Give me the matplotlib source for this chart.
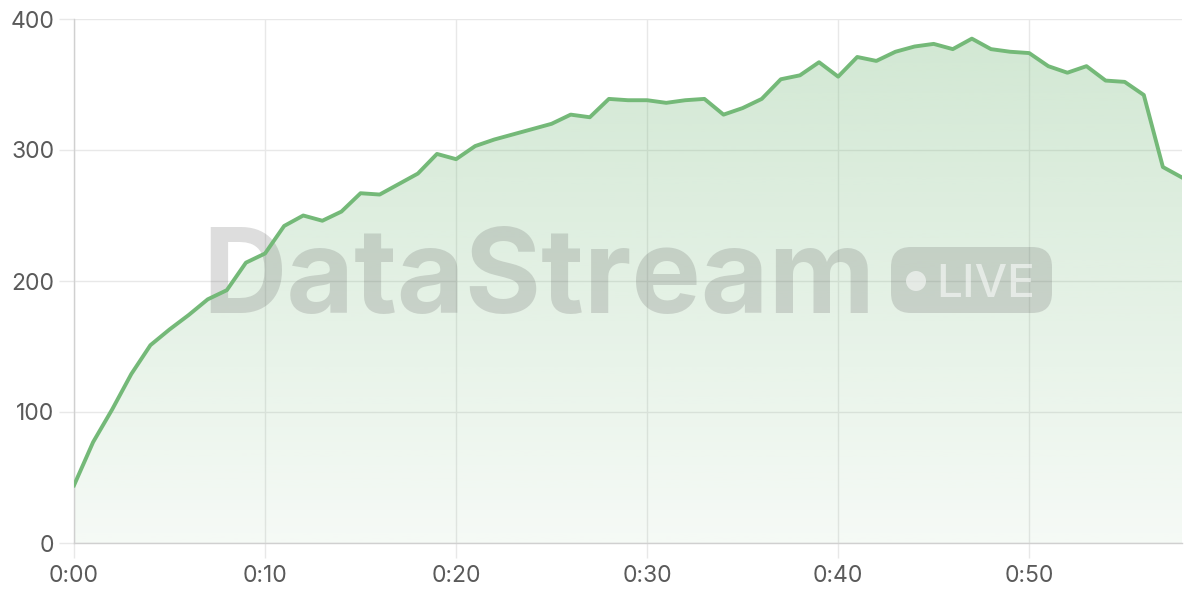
import matplotlib
matplotlib.use("Agg")
import matplotlib.pyplot as plt
import numpy as np
from matplotlib.patches import FancyBboxPatch, Circle
from matplotlib.ticker import FuncFormatter, MultipleLocator
from matplotlib.transforms import Affine2D

plt.rcParams['font.family'] = ['Inter', 'DejaVu Sans']

# minutes since start
minutes = list(range(0, 59))
# values
values = [44, 77, 102, 129, 151, 163, 174, 186, 193, 214,
          221, 242, 250, 246, 253, 267, 266, 274, 282, 297,
          293, 303, 308, 312, 316, 320, 327, 325, 339, 338,
          338, 336, 338, 339, 327, 332, 339, 354, 357, 367,
          356, 371, 368, 375, 379, 381, 377, 385, 377, 375,
          374, 364, 359, 364, 353, 352, 342, 287, 279]

line_col = '#74b978'
grid_col = '#e8e8e8'
tick_col = '#5a5a5a'

fig = plt.figure(figsize=(12, 6), dpi=100)
ax = fig.add_axes([74 / 1200, 57 / 600, 1108 / 1200, 524 / 600])
ax.set_xlim(0, 58)
ax.set_ylim(0, 400)

# gradient fill under the line
poly = ax.fill_between(minutes, values, 0, color='none', lw=0)
grad = np.linspace(0.07, 0.34, 256).reshape(-1, 1)
rgba = np.zeros((256, 1, 4))
rgba[..., 0] = 118 / 255
rgba[..., 1] = 185 / 255
rgba[..., 2] = 123 / 255
rgba[..., 3] = grad
im = ax.imshow(rgba, extent=[0, 58, 0, 400], origin='lower', aspect='auto', zorder=1)
im.set_clip_path(poly.get_paths()[0], transform=ax.transData)

ax.plot(minutes, values, color=line_col, lw=2.8, zorder=5, solid_joinstyle='round')

# watermark, placed in pixel coords (origin top-left)
px = Affine2D().scale(1 / 1200, -1 / 600).translate(0, 1) + fig.transFigure
ax.text(539, 313, 'DataStream', ha='center', va='baseline', fontsize=84,
        fontweight='bold', color='#555555', alpha=0.2, transform=px,
        zorder=3, clip_on=False)
badge = FancyBboxPatch((891, 247), 161, 66, boxstyle='round,pad=0,rounding_size=20',
                       transform=px, fc='#555555', ec='none', alpha=0.2,
                       zorder=3, clip_on=False)
ax.add_patch(badge)
ax.add_patch(Circle((916, 281), 10, transform=px, fc='white', ec='none',
                    alpha=0.55, zorder=3, clip_on=False))
ax.text(986, 297, 'LIVE', ha='center', va='baseline', fontsize=33,
        fontweight='medium', color='white', alpha=0.55, transform=px,
        zorder=3, clip_on=False)

ax.grid(True, color=grid_col, lw=1, zorder=0)
ax.set_axisbelow(True)
for s in ['top', 'right']:
    ax.spines[s].set_visible(False)
for s in ['left', 'bottom']:
    ax.spines[s].set_color('#d0d0d0')
    ax.spines[s].set_linewidth(1)

ax.xaxis.set_major_locator(MultipleLocator(10))
ax.yaxis.set_major_locator(MultipleLocator(100))
ax.xaxis.set_major_formatter(FuncFormatter(lambda m, p: f"{int(m) // 60}:{int(m) % 60:02d}"))
ax.tick_params(axis='both', length=11, color=grid_col, width=1, labelsize=16.5,
               labelcolor=tick_col, pad=3)
ax.tick_params(axis='x', pad=5)

fig.savefig('out.png', dpi=100, facecolor='white')
